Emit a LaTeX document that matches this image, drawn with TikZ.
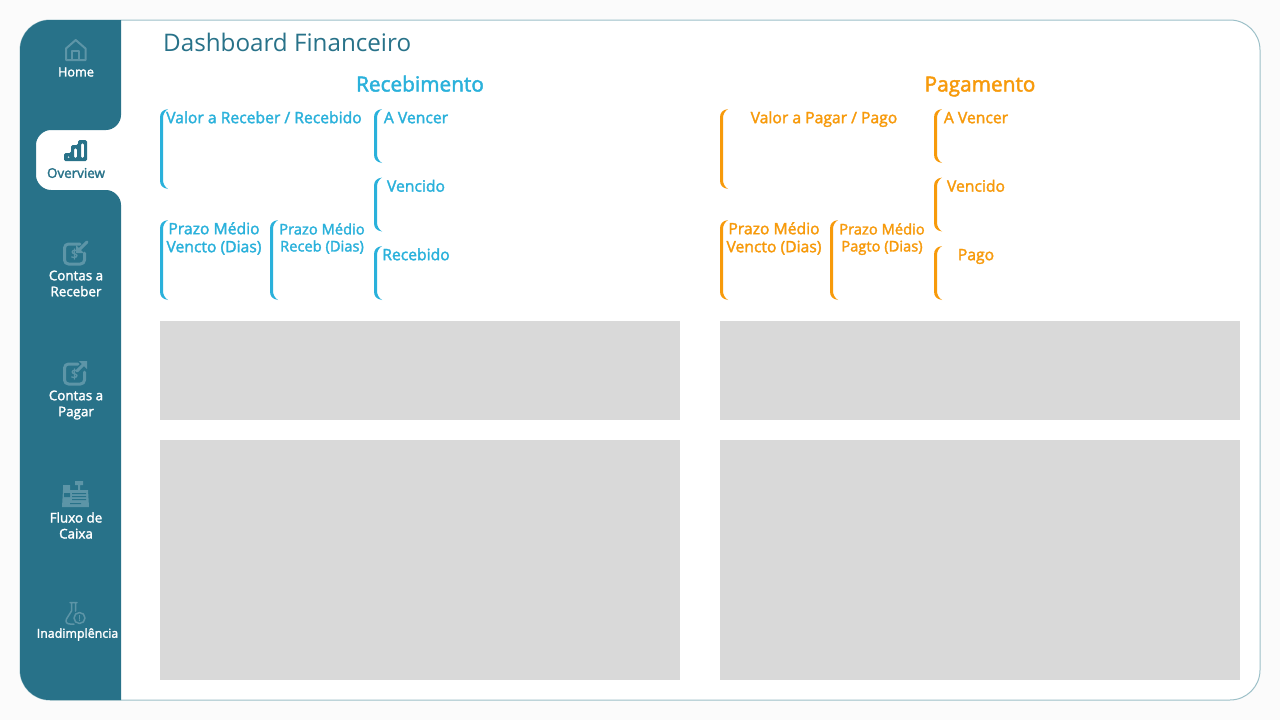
\documentclass[tikz,border=0pt]{standalone}
\usepackage{fontspec}
\usetikzlibrary{positioning}
\setmainfont{Open Sans}
\newfontfamily\semifont[FakeBold=2]{Open Sans}
\definecolor{pagebg}{HTML}{FBFBFB}
\definecolor{sideteal}{HTML}{287289}
\definecolor{iconteal}{HTML}{5D95A7}
\definecolor{panelline}{HTML}{9CC0C8}
\definecolor{recblue}{HTML}{2AB1DB}
\definecolor{pagorange}{HTML}{F79A0B}
\definecolor{chartgrey}{HTML}{D9D9D9}
\tikzset{
	card/.style={inner sep=0pt,outer sep=0pt,path picture={
		\coordinate (nw) at (path picture bounding box.north west);
		\coordinate (sw) at (path picture bounding box.south west);
		\fill[#1] ([xshift=8pt]nw) .. controls ([xshift=2pt,yshift=-1pt]nw) and ([yshift=-4pt]nw) .. ([yshift=-9pt]nw)
			-- ([yshift=9pt]sw) .. controls ([yshift=4pt]sw) and ([xshift=2pt,yshift=1pt]sw) .. ([xshift=8pt]sw)
			.. controls ([xshift=5pt,yshift=2pt]sw) and ([xshift=3pt,yshift=5pt]sw) .. ([xshift=3pt,yshift=9pt]sw)
			-- ([xshift=3pt,yshift=-9pt]nw) .. controls ([xshift=3pt,yshift=-5pt]nw) and ([xshift=5pt,yshift=-2pt]nw) .. cycle;}},
	cardbig/.style={card=#1,minimum width=208pt,minimum height=80pt},
	cardwide/.style={card=#1,minimum width=108pt,minimum height=80pt},
	cardmid/.style={card=#1,minimum width=104pt,minimum height=80pt},
	cardsmall/.style={card=#1,minimum width=84pt,minimum height=54pt},
	cardtext/.style={inner sep=0pt,text height=11.5pt,font=\semifont\fontsize{15.7}{18}\selectfont},
	cardtwo/.style={inner sep=0pt,align=center,font=\semifont\fontsize{15.7}{18}\selectfont},
	cardtwosm/.style={inner sep=0pt,align=center,font=\semifont\fontsize{14.7}{17}\selectfont},
	heading/.style={inner sep=0pt,anchor=base,font=\semifont\fontsize{20.8}{24}\selectfont},
	chart/.style={fill=chartgrey,inner sep=0pt,outer sep=0pt,minimum width=520pt},
	navtext/.style={inner sep=0pt,align=center,text=white,font=\semifont\fontsize{13.4}{16}\selectfont},
	iconline/.style={draw=iconteal,line width=2pt,line join=round,line cap=round}
}
\begin{document}
\begin{tikzpicture}[x=1pt,y=-1pt]

	\useasboundingbox (0,0) rectangle (1280,720);
	\fill[pagebg] (0,0) rectangle (1280,720);
	\draw[panelline,fill=white,line width=1pt,rounded corners=30pt] (20,20) rectangle (1260,700);

	% sidebar with the notch of the active item
	\fill[sideteal] (121,20) -- (50,20) .. controls (33.4,20) and (20,33.4) .. (20,50) -- (20,670)
		.. controls (20,686.6) and (33.4,700) .. (50,700) -- (121,700) -- (121,205)
		.. controls (121,197) and (114,190) .. (106,190) -- (51,190) .. controls (43,190) and (36,183) .. (36,175)
		-- (36,145) .. controls (36,137) and (43,130) .. (51,130) -- (106,130)
		.. controls (114,130) and (121,123) .. (121,115) -- cycle;

	\node[navtext,font=\semifont\fontsize{12.7}{16}\selectfont] (home) at (76,72) {Home};
	\node[navtext,text=sideteal] (overview) at (76,173) {Overview};
	\node[navtext] (receber) at (76,283.5) {Contas a\\Receber};
	\node[navtext] (pagar) at (76,405) {Contas a\\Pagar};
	\node[navtext] (fluxo) at (76,525.5) {Fluxo de\\Caixa};
	\node[navtext,font=\semifont\fontsize{12.4}{16}\selectfont] (inad) at (77.5,634.5) {Inadimplência};

	% icons
	\draw[iconline] (66,60) -- (66,48.5) -- (75.7,40) -- (85.5,48.5) -- (85.5,60) -- cycle;
	\draw[iconline] (72,60) -- (72,51) -- (79,51) -- (79,60);

	\fill[sideteal,even odd rule,rounded corners=1.5pt] (64,161) -- (64,153) -- (71,153) -- (71,145) -- (78,145) -- (78,140) -- (87,140) -- (87,161) -- cycle
		(67,156) rectangle (70,158) (74,148) rectangle (77,158) (81,143) rectangle (84,158);

	\draw[iconline,line width=3pt,rounded corners=4pt] (80,244) -- (64.5,244) -- (64.5,264) -- (84.5,264) -- (84.5,253);
	\node[inner sep=0pt,text=iconteal,font=\semifont\fontsize{13}{13}\selectfont] (recdollar) at (74.5,254) {\$};
	\draw[iconline,line width=3pt] (87,242) -- (79,250);
	\fill[iconteal] (76,253) -- (76,245) -- (84,253) -- cycle;

	\draw[iconline,line width=3pt,rounded corners=4pt] (78,364) -- (64.5,364) -- (64.5,384) -- (84.5,384) -- (84.5,372);
	\node[inner sep=0pt,text=iconteal,font=\semifont\fontsize{13}{13}\selectfont] (pagdollar) at (74.5,374) {\$};
	\draw[iconline,line width=3pt] (77,371) -- (84,364);
	\fill[iconteal] (87,361) -- (87,369) -- (79,361) -- cycle;

	\fill[iconteal] (63,490) -- (88,490) -- (89,507) -- (62,507) -- cycle;
	\fill[iconteal] (63,485) rectangle (70,490) (75,481) rectangle (83,485) (78,485) rectangle (80,490);
	\fill[sideteal] (72,493) rectangle (86,494) (72,496) rectangle (86,497) (72,499) rectangle (86,500) (64,493) rectangle (70,497) (70,503) rectangle (81,504);

	\draw[iconline,line width=1.5pt] (70,602.5) -- (77,602.5) (71.5,602.5) -- (71.5,611) -- (66.5,619) .. controls (65,622) and (67,624) .. (70,624) -- (74,624) (75.5,602.5) -- (75.5,611);
	\draw[iconline,line width=1.5pt] (79.5,618) circle (5.5);
	\node[inner sep=0pt,text=iconteal,font=\semifont\fontsize{8}{8}\selectfont] (inadmark) at (79.5,618) {!};

	% title and the two sides
	\node[inner sep=0pt,anchor=west,text=sideteal,font=\fontsize{24.2}{28}\selectfont] (title) at (163,42.5) {Dashboard Financeiro};

	\node[heading,text=recblue] (rechead) at (420,91.5) {Recebimento};
	\node[cardbig=recblue,anchor=north west] (recvalor) at (160,109) {};
	\node[cardsmall=recblue] (recavencer) [right=6pt of recvalor.north east,anchor=north west] {};
	\node[cardsmall=recblue] (recvencido) [below=14.5pt of recavencer] {};
	\node[cardsmall=recblue] (recrecebido) [below=14.5pt of recvencido] {};
	\node[cardwide=recblue,anchor=north west] (recvencto) at (160,220) {};
	\node[cardmid=recblue] (recprazo) [right=2pt of recvencto] {};
	\node[cardtext,text=recblue] (recvalortxt) [below=2.5pt of recvalor.north] {Valor a Receber / Recebido};
	\node[cardtext,text=recblue] (recavencertxt) [below=2.5pt of recavencer.north] {A Vencer};
	\node[cardtext,text=recblue] (recvencidotxt) [below=2.5pt of recvencido.north] {Vencido};
	\node[cardtext,text=recblue] (recrecebidotxt) [below=2.5pt of recrecebido.north] {Recebido};
	\node[cardtwo,text=recblue] (recvenctotxt) [below=2pt of recvencto.north] {Prazo Médio\\Vencto (Dias)};
	\node[cardtwosm,text=recblue] (recprazotxt) [below=3pt of recprazo.north] {Prazo Médio\\Receb (Dias)};
	\node[chart,minimum height=99pt,anchor=north west] (recbar) at (160,321) {};
	\node[chart,minimum height=240pt] (recgrid) [below=20pt of recbar] {};

	\node[heading,text=pagorange] (paghead) at (980,91.5) {Pagamento};
	\node[cardbig=pagorange,anchor=north west] (pagvalor) at (720,109) {};
	\node[cardsmall=pagorange] (pagavencer) [right=6pt of pagvalor.north east,anchor=north west] {};
	\node[cardsmall=pagorange] (pagvencido) [below=14.5pt of pagavencer] {};
	\node[cardsmall=pagorange] (pagpago) [below=14.5pt of pagvencido] {};
	\node[cardwide=pagorange,anchor=north west] (pagvencto) at (720,220) {};
	\node[cardmid=pagorange] (pagprazo) [right=2pt of pagvencto] {};
	\node[cardtext,text=pagorange] (pagvalortxt) [below=2.5pt of pagvalor.north] {Valor a Pagar / Pago};
	\node[cardtext,text=pagorange] (pagavencertxt) [below=2.5pt of pagavencer.north] {A Vencer};
	\node[cardtext,text=pagorange] (pagvencidotxt) [below=2.5pt of pagvencido.north] {Vencido};
	\node[cardtext,text=pagorange] (pagpagotxt) [below=2.5pt of pagpago.north] {Pago};
	\node[cardtwo,text=pagorange] (pagvenctotxt) [below=2pt of pagvencto.north] {Prazo Médio\\Vencto (Dias)};
	\node[cardtwosm,text=pagorange] (pagprazotxt) [below=3pt of pagprazo.north] {Prazo Médio\\Pagto (Dias)};
	\node[chart,minimum height=99pt,anchor=north west] (pagbar) at (720,321) {};
	\node[chart,minimum height=240pt] (paggrid) [below=20pt of pagbar] {};

\end{tikzpicture}
\end{document}
